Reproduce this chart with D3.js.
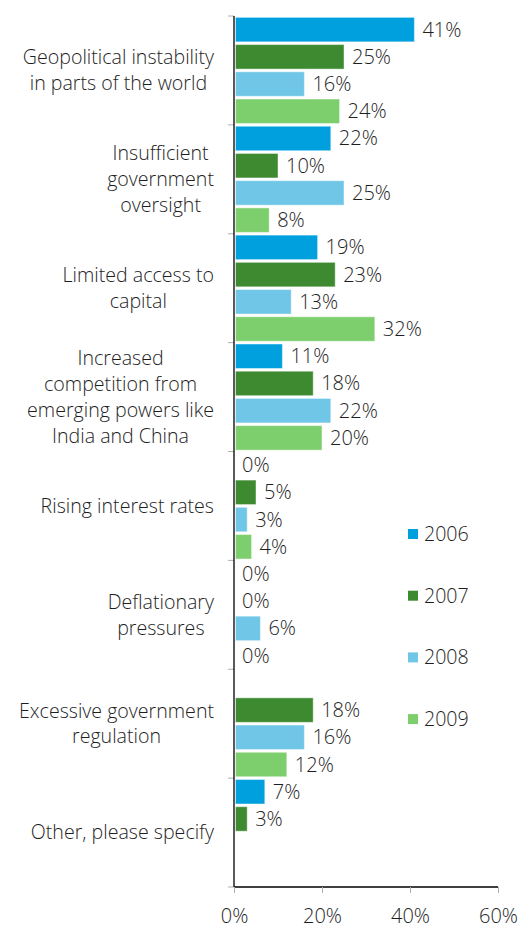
<!DOCTYPE html>
<html>
<head>
<meta charset="utf-8">
<script src="https://cdn.jsdelivr.net/npm/d3@7"></script>
<style>
  body { margin: 0; background: #fff; }
  text { font-family: "Open Sans", "Noto Sans", sans-serif; font-weight: 350; fill: #1e1e1e; }
</style>
</head>
<body>
<svg id="chart"></svg>
<script>
var categories = [
  ["Geopolitical instability", "in parts of the world"],
  ["Insufficient", "government", "oversight"],
  ["Limited access to", "capital"],
  ["Increased", "competition from", "emerging powers like", "India and China"],
  ["Rising interest rates"],
  ["Deflationary", "pressures"],
  ["Excessive government", "regulation"],
  ["Other, please specify"]
];
var years = ["2006", "2007", "2008", "2009"];
var colors = ["#00a0df", "#3d8a30", "#70c6e6", "#7dcf6d"];
var values2006 = [41, 22, 19, 11, 0, 0, null, 7];
var values2007 = [25, 10, 23, 18, 5, 0, 18, 3];
var values2008 = [16, 25, 13, 22, 3, 6, 16, null];
var values2009 = [24, 8, 32, 20, 4, 0, 12, null];
var xTicks = [0, 20, 40, 60];

var series = [values2006, values2007, values2008, values2009];
var width = 519, height = 933;
var margin = {top: 16, left: 234, right: 21, bottom: 46};

var svg = d3.select("#chart")
  .attr("width", width)
  .attr("height", height);

var x = d3.scaleLinear()
  .domain([0, 60])
  .range([margin.left, width - margin.right]);

var y = d3.scaleBand()
  .domain(d3.range(categories.length))
  .range([margin.top, height - margin.bottom])
  .padding(0);

var yInner = d3.scaleBand()
  .domain(years)
  .range([0, y.bandwidth()])
  .paddingInner(0.1)
  .paddingOuter(0.05);

// flat list of bars
var bars = [];
categories.forEach(function(c, i) {
  years.forEach(function(yr, j) {
    var v = series[j][i];
    if (v !== null) bars.push({cat: i, year: yr, idx: j, value: v});
  });
});

svg.append("g").selectAll("rect")
  .data(bars.filter(d => d.value > 0))
  .enter().append("rect")
    .attr("x", x(0) + 1.5)
    .attr("y", d => y(d.cat) + yInner(d.year))
    .attr("width", d => x(d.value) - x(0) - 1.5)
    .attr("height", yInner.bandwidth())
    .attr("fill", d => colors[d.idx])
    .attr("stroke", "#fff")
    .attr("stroke-opacity", 0.45)
    .attr("stroke-width", 1);

svg.append("g").selectAll("text")
  .data(bars)
  .enter().append("text")
    .attr("x", d => x(d.value) + 8)
    .attr("y", d => y(d.cat) + yInner(d.year) + yInner.bandwidth() / 2)
    .attr("dy", "0.35em")
    .style("font-size", "20px")
    .text(d => d.value + "%");

// y axis
var yAxis = svg.append("g")
  .attr("transform", `translate(${margin.left}, 0)`);
yAxis.selectAll("line.tick")
  .data(d3.range(categories.length + 1))
  .enter().append("line")
    .attr("class", "tick")
    .attr("x1", -6).attr("x2", 0)
    .attr("y1", d => d < categories.length ? y(d) : y.range()[1])
    .attr("y2", d => d < categories.length ? y(d) : y.range()[1])
    .attr("stroke", "#b0b0b0");
yAxis.append("line")
  .attr("x1", 0).attr("x2", 0)
  .attr("y1", margin.top).attr("y2", height - margin.bottom)
  .attr("stroke", "#000")
  .attr("stroke-width", 1.3);

// category labels: lines centered, block right-aligned
var labelRight = 214, lineH = 25.8;
categories.forEach(function(lines, i) {
  var g = svg.append("g");
  var cy = y(i) + y.bandwidth() / 2;
  var texts = g.selectAll("text")
    .data(lines)
    .enter().append("text")
      .attr("text-anchor", "middle")
      .attr("y", (d, k) => cy + (k - (lines.length - 1) / 2) * lineH)
      .attr("dy", "0.35em")
      .style("font-size", "19.6px")
      .text(d => d);
  var maxW = d3.max(texts.nodes(), n => n.getComputedTextLength());
  texts.attr("x", labelRight - maxW / 2);
});

// x axis
var xAxis = svg.append("g")
  .attr("transform", `translate(0, ${height - margin.bottom})`)
  .call(d3.axisBottom(x).tickValues(xTicks).tickFormat(d => d + "%").tickSize(6).tickPadding(16));
xAxis.select(".domain").attr("stroke", "#000").attr("stroke-width", 1.3).attr("d", `M${x(0)},0H${x(60)}`);
xAxis.selectAll(".tick line").attr("stroke", "#b0b0b0");
xAxis.selectAll(".tick text")
  .style("font-family", "'Open Sans', 'Noto Sans', sans-serif")
  .style("font-weight", 350)
  .style("font-size", "20px")
  .attr("fill", "#1e1e1e");

// legend
var legend = svg.append("g").selectAll("g")
  .data(years)
  .enter().append("g")
    .attr("transform", (d, i) => `translate(408, ${534 + i * 61.7})`);
legend.append("rect")
  .attr("x", 0).attr("y", -5)
  .attr("width", 10).attr("height", 10)
  .attr("fill", (d, i) => colors[i]);
legend.append("text")
  .attr("x", 16)
  .attr("dy", "0.35em")
  .style("font-size", "19.6px")
  .text(d => d);
</script>
</body>
</html>
